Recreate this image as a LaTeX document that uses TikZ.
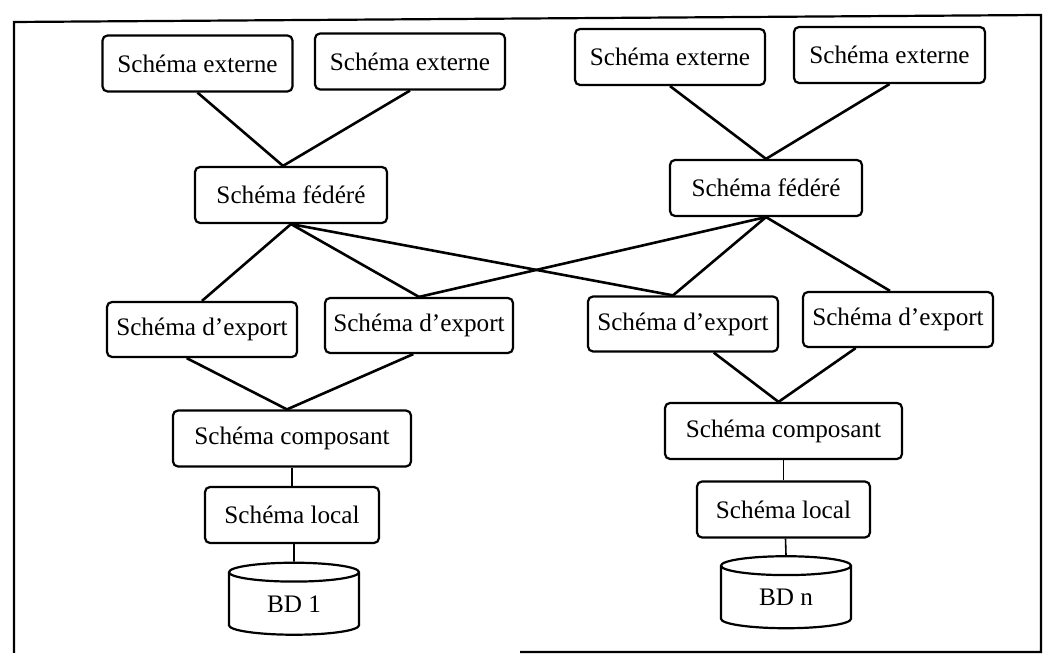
\documentclass[tikz,border=0pt]{standalone}
\usepackage{fontspec}
\setmainfont{Liberation Serif}
\usetikzlibrary{calc,shapes.geometric}

\begin{document}
\begin{tikzpicture}[x=0.5pt,y=-0.5pt,
  schema/.style={draw,line width=1.1pt,rounded corners=2.5pt,inner sep=0pt,
    minimum height=28pt,font=\fontsize{12.6}{14}\selectfont},
  base/.style={draw,line width=1.1pt,cylinder,shape border rotate=90,aspect=0.35,
    inner sep=0pt,minimum width=65pt,minimum height=36pt,font=\fontsize{12.6}{14}\selectfont},
  lien/.style={line width=1.3pt},
  fil/.style={line width=0.8pt}]
  \useasboundingbox (0,0) rectangle (1044,656);
  % cadre (scanne, le bas gauche manque)
  \draw[line width=1.1pt] (14,653) -- (14,22) -- (1041,15) -- (1041,652) -- (520,652);
  % schemas externes
  \node[schema,minimum width=95pt] (E1) at (197.5,63.5) {Schéma externe};
  \node[schema,minimum width=95pt] (E2) at (410,61.5) {Schéma externe};
  \node[schema,minimum width=95pt] (E3) at (670,57) {Schéma externe};
  \node[schema,minimum width=95.5pt] (E4) at (889.5,55) {Schéma externe};
  % schemas federes
  \node[schema,minimum width=96pt] (F1) at (291,195) {Schéma fédéré};
  \node[schema,minimum width=96pt] (F2) at (766,188) {Schéma fédéré};
  % schemas d'export
  \node[schema,minimum width=95pt,minimum height=27.5pt] (X1) at (202,329.5) {Schéma d'export};
  \node[schema,minimum width=94pt,minimum height=27.5pt] (X2) at (419,325.5) {Schéma d'export};
  \node[schema,minimum width=95pt,minimum height=27.5pt] (X3) at (683,324) {Schéma d'export};
  \node[schema,minimum width=95pt,minimum height=27.5pt] (X4) at (898,319.5) {Schéma d'export};
  % schemas composants et locaux
  \node[schema,minimum width=119pt] (C1) at (292,438.5) {Schéma composant};
  \node[schema,minimum width=118.5pt] (C2) at (783.5,431) {Schéma composant};
  \node[schema,minimum width=87pt] (L1) at (292,515) {Schéma local};
  \node[schema,minimum width=86.5pt] (L2) at (783.5,509.5) {Schéma local};
  % bases de donnees
  \node[base] (D1) at (294,604) {BD 1};
  \node[base] (D2) at (786,597.5) {BD n};
  % liens
  \draw[lien] (E1.south) -- ($(F1.north)+(-8,0)$) -- (E2.south);
  \draw[lien] (E3.south) -- (F2.north) -- (E4.south);
  \draw[lien] (X1.north) -- (F1.south) -- (X2.north);
  \draw[lien] (F1.south) -- ($(X3.north)+(-10,0)$);
  \draw[lien] (X2.north) -- (F2.south);
  \draw[lien] ($(X3.north)+(-10,0)$) -- (F2.south) -- ($(X4.north)+(-8,0)$);
  \draw[lien] ($(X1.south west)!0.42!(X1.south east)$) -- ($(C1.north)+(-5,0)$)
    -- ($(X2.south west)!0.47!(X2.south east)$);
  \draw[lien] ($(X3.south west)!0.66!(X3.south east)$) -- ($(C2.north)+(-5,0)$)
    -- ($(X4.south west)!0.28!(X4.south east)$);
  \draw[fil] (C1.south) -- (L1.north);
  \draw[fil] ($(L1.south)+(2,0)$) -- ($(D1.north)+(0,0)$);
  \draw[fil] (C2.south) -- (L2.north);
  \draw[fil] ($(L2.south)+(2,0)$) -- (D2.north);
\end{tikzpicture}
\end{document}
